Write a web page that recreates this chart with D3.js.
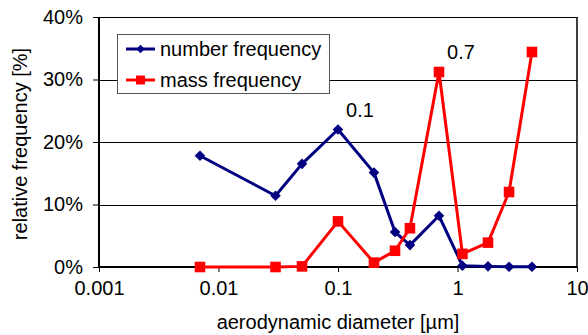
<!DOCTYPE html>
<html>
<head>
<meta charset="utf-8">
<script src="https://cdn.jsdelivr.net/npm/d3@7"></script>
<style>
  body { margin: 0; background: #fff; }
  text { font-family: "Liberation Sans", Arial, sans-serif; fill: #000; }
</style>
</head>
<body>
<script>
// aerodynamic diameter [um]
var diameters = [0.007, 0.03, 0.05, 0.1, 0.2, 0.3, 0.4, 0.7, 1.1, 1.8, 2.7, 4.2];
var numberFreq = [17.8, 11.4, 16.5, 22.0, 15.1, 5.6, 3.5, 8.2, 0.2, 0.1, 0.05, 0.05];
var massFreq = [0.0, 0.0, 0.1, 7.3, 0.7, 2.6, 6.2, 31.2, 2.1, 3.9, 12.0, 34.4];
var xTicks = [0.001, 0.01, 0.1, 1, 10];
var yTicks = [0, 10, 20, 30, 40];
var annotations = [{ x: 0.1, y: 22.0, label: "0.1" }, { x: 0.7, y: 31.2, label: "0.7" }];

var width = 588, height = 335;
var plotLeft = 99, plotRight = 577, plotTop = 17, plotBottom = 267;
var fontSize = 20;

var svg = d3.select("body").append("svg")
    .attr("width", width)
    .attr("height", height);

var x = d3.scaleLog().domain([0.001, 10]).range([plotLeft, plotRight]);
var y = d3.scaleLinear().domain([0, 40]).range([plotBottom, plotTop]);

// gridlines
svg.append("g")
  .selectAll("line")
  .data(yTicks.slice(1))
  .enter().append("line")
    .attr("x1", plotLeft).attr("x2", plotRight)
    .attr("y1", function(d) { return Math.round(y(d)) + 0.5; })
    .attr("y2", function(d) { return Math.round(y(d)) + 0.5; })
    .attr("stroke", "#000")
    .attr("stroke-width", 1);

// right border
svg.append("line")
    .attr("x1", plotRight).attr("x2", plotRight)
    .attr("y1", plotTop).attr("y2", plotBottom)
    .attr("stroke", "#000")
    .attr("stroke-width", 1.5);

var xAxis = svg.append("g")
    .attr("transform", "translate(0," + plotBottom + ")")
    .call(d3.axisBottom(x).tickValues(xTicks).tickSize(5).tickPadding(9)
      .tickFormat(function(d) { return d3.format("~g")(d); }));
xAxis.select(".domain").attr("stroke-width", 2).attr("d", "M" + plotLeft + ",0H" + plotRight);
xAxis.attr("font-size", fontSize).attr("font-family", null);

var yAxis = svg.append("g")
    .attr("transform", "translate(" + plotLeft + ",0)")
    .call(d3.axisLeft(y).tickValues(yTicks).tickSize(6).tickPadding(10)
      .tickFormat(function(d) { return d + "%"; }));
yAxis.select(".domain").attr("stroke-width", 2).attr("d", "M0," + plotBottom + "V" + plotTop);
yAxis.attr("font-size", fontSize).attr("font-family", null);

svg.append("text")
    .attr("transform", "translate(27," + ((plotTop + plotBottom) / 2 + 2) + ") rotate(-90)")
    .attr("text-anchor", "middle")
    .attr("font-size", fontSize)
    .text("relative frequency [%]");

svg.append("text")
    .attr("x", (plotLeft + plotRight) / 2)
    .attr("y", 329)
    .attr("text-anchor", "middle")
    .attr("font-size", fontSize)
    .text("aerodynamic diameter [µm]");

// diamonds are squares turned 45 degrees
var series = [
  { name: "number frequency", values: numberFreq, color: "#000080", rotate: 45, size: 56, legendSize: 36 },
  { name: "mass frequency", values: massFreq, color: "#ff0000", rotate: 0, size: 112, legendSize: 80 }
];

var line = d3.line()
    .x(function(d) { return x(d[0]); })
    .y(function(d) { return y(d[1]); });

series.forEach(function(s) {
  var pts = diameters.map(function(d, i) { return [d, s.values[i]]; });
  svg.append("path")
      .datum(pts)
      .attr("fill", "none")
      .attr("stroke", s.color)
      .attr("stroke-width", 3)
      .attr("stroke-linejoin", "round")
      .attr("d", line);
  svg.append("g")
    .selectAll("path")
    .data(pts)
    .enter().append("path")
      .attr("transform", function(d) { return "translate(" + x(d[0]) + "," + y(d[1]) + ") rotate(" + s.rotate + ")"; })
      .attr("d", d3.symbol().type(d3.symbolSquare).size(s.size))
      .attr("fill", s.color);
});

svg.append("g")
  .selectAll("text")
  .data(annotations)
  .enter().append("text")
    .attr("x", function(d) { return x(d.x) + 22; })
    .attr("y", function(d) { return y(d.y) - 13; })
    .attr("text-anchor", "middle")
    .attr("font-size", fontSize)
    .text(function(d) { return d.label; });

// legend
var legend = svg.append("g");
legend.append("rect")
    .attr("x", 117.5).attr("y", 34.5)
    .attr("width", 212).attr("height", 59)
    .attr("fill", "#fff")
    .attr("stroke", "#555");

var item = legend.selectAll("g")
  .data(series)
  .enter().append("g")
    .attr("transform", function(d, i) { return "translate(0," + (49 + i * 31) + ")"; });
item.append("line")
    .attr("x1", 126).attr("x2", 155)
    .attr("stroke", function(d) { return d.color; })
    .attr("stroke-width", 3);
item.append("path")
    .attr("transform", function(d) { return "translate(140.5,0) rotate(" + d.rotate + ")"; })
    .attr("d", function(d) { return d3.symbol().type(d3.symbolSquare).size(d.legendSize)(); })
    .attr("fill", function(d) { return d.color; });
item.append("text")
    .attr("x", 160)
    .attr("y", 7)
    .attr("font-size", fontSize)
    .text(function(d) { return d.name; });
</script>
</body>
</html>
